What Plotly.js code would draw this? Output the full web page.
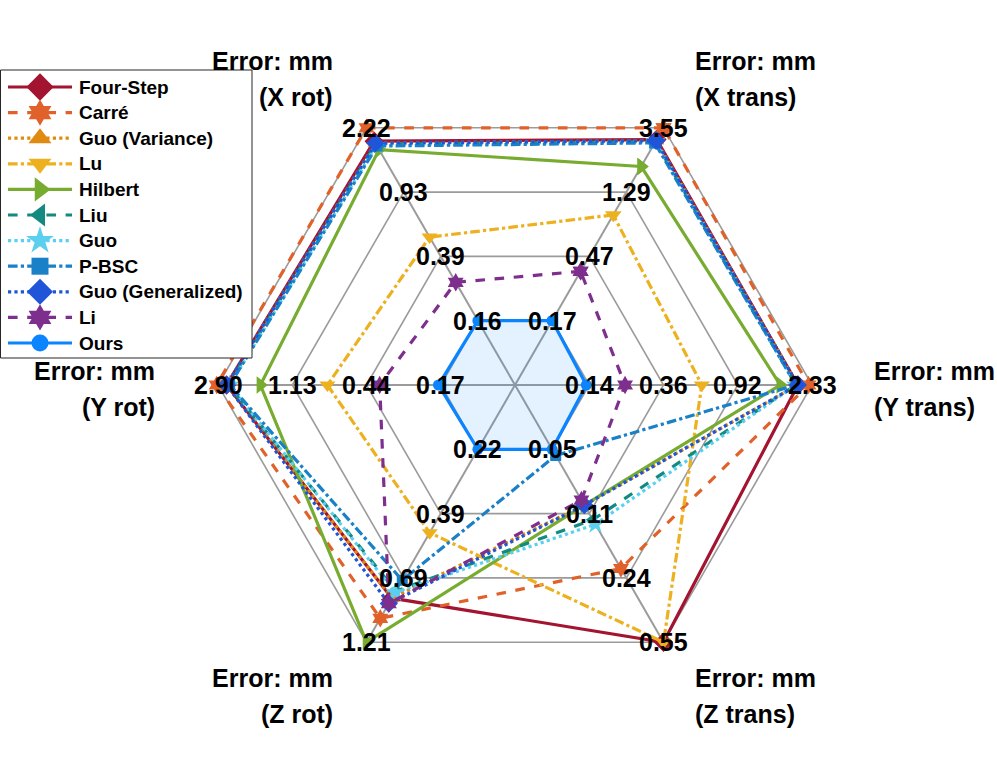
<!DOCTYPE html>
<html>
<head>
<meta charset="utf-8">
<script src="https://cdn.plot.ly/plotly-3.0.1.min.js"></script>
<style>html,body{margin:0;padding:0;background:#fff;}#chart{width:997px;height:774px;}</style>
</head>
<body>
<div id="chart"></div>
<script>
// Axes (order matches series values), angles in degrees
const axesNames = ['X trans', 'X rot', 'Y rot', 'Z rot', 'Z trans', 'Y trans'];
const axesAngles = [60, 120, 180, 240, 300, 0];
// Ring tick labels for each axis (ring 1..4)
const ticksXtrans = [0.17, 0.47, 1.29, 3.55];
const ticksXrot = [0.16, 0.39, 0.93, 2.22];
const ticksYrot = [0.17, 0.44, 1.13, 2.90];
const ticksZrot = [0.22, 0.39, 0.69, 1.21];
const ticksZtrans = [0.05, 0.11, 0.24, 0.55];
const ticksYtrans = [0.14, 0.36, 0.92, 2.33];
const axisTicks = [ticksXtrans, ticksXrot, ticksYrot, ticksZrot, ticksZtrans, ticksYtrans];

// Series values: [X trans, X rot, Y rot, Z rot, Z trans, Y trans]
const seriesNames = ['Four-Step', 'Carré', 'Guo (Variance)', 'Lu', 'Hilbert', 'Liu', 'Guo', 'P-BSC', 'Guo (Generalized)', 'Li', 'Ours'];
const fourStep = [2.95, 1.85, 2.60, 0.82, 0.55, 1.95];
const carre = [3.55, 2.22, 2.95, 0.98, 0.22, 2.23];
const guoVariance = [2.90, 1.80, 2.60, 0.82, 0.10, 1.95];
const lu = [0.90, 0.50, 0.72, 0.46, 0.55, 0.58];
const hilbert = [1.93, 1.65, 1.69, 1.21, 0.10, 1.56];
const liu = [2.85, 1.78, 2.55, 0.77, 0.12, 1.90];
const guo = [2.85, 1.75, 2.50, 0.78, 0.127, 1.90];
const pbsc = [2.80, 1.73, 2.50, 0.70, 0.054, 1.90];
const guoGeneralized = [2.90, 1.80, 2.60, 0.86, 0.10, 1.95];
const li = [0.37, 0.27, 0.37, 0.86, 0.094, 0.22];
const ours = [0.17, 0.16, 0.175, 0.22, 0.05, 0.135];
const seriesValues = [fourStep, carre, guoVariance, lu, hilbert, liu, guo, pbsc, guoGeneralized, li, ours];

// Styles
const colors = ['#A2142F', '#E0622A', '#E08A10', '#EDB120', '#77AC30', '#138A80', '#5BCFF0', '#1A80C8', '#1F55D8', '#7E2F8E', '#0A84FF'];
const dashes = ['solid', 'dash', 'dot', 'dashdot', 'solid', 'dash', 'dot', 'dashdot', 'dot', 'dash', 'solid'];
const symbols = ['diamond', 'hexagram', 'triangle-up', 'triangle-down', 'triangle-right', 'triangle-left', 'star', 'square', 'diamond', 'hexagram', 'circle'];
const msizes = [15, 14, 14, 14, 15, 14, 15, 11, 14, 14, 11];

const FONT = 'Liberation Sans, Arial, Helvetica, sans-serif';
const nRings = 4;
const W = 997, H = 774;
const cx = 515, cy = 385, unit = 74.25;

// map value -> radius (ring units), log scale through ring1..ring4
function radius(v, t) {
  return 1 + (nRings - 1) * Math.log(v / t[0]) / Math.log(t[nRings - 1] / t[0]);
}
function pt(r, angDeg) {
  const a = angDeg * Math.PI / 180;
  return [r * Math.cos(a), r * Math.sin(a)];
}
// pixel -> data units (used for legend placement)
function pxX(px) { return (px - cx) / unit; }
function pxY(py) { return (cy - py) / unit; }

const traces = [];
const gridColor = '#9b9b9b';
// hexagon rings
for (let k = 1; k <= nRings; k++) {
  const xs = [], ys = [];
  for (let i = 0; i <= axesAngles.length; i++) {
    const p = pt(k, axesAngles[i % axesAngles.length]);
    xs.push(p[0]); ys.push(p[1]);
  }
  traces.push({x: xs, y: ys, mode: 'lines', line: {color: gridColor, width: 1.6}, hoverinfo: 'skip', showlegend: false});
}
// spokes
for (let i = 0; i < axesAngles.length; i++) {
  const p = pt(nRings, axesAngles[i]);
  traces.push({x: [0, p[0]], y: [0, p[1]], mode: 'lines', line: {color: gridColor, width: 2}, hoverinfo: 'skip', showlegend: false});
}
// data series
seriesNames.forEach((name, s) => {
  const xs = [], ys = [];
  for (let i = 0; i <= axesAngles.length; i++) {
    const j = i % axesAngles.length;
    const r = radius(seriesValues[s][j], axisTicks[j]);
    const p = pt(r, axesAngles[j]);
    xs.push(p[0]); ys.push(p[1]);
  }
  const tr = {
    x: xs, y: ys, name: name, mode: 'lines+markers', showlegend: false,
    line: {color: colors[s], width: 3.2, dash: dashes[s]},
    marker: {symbol: symbols[s], size: msizes[s], color: colors[s], opacity: 1, line: {width: 0}},
    hoverinfo: 'name'
  };
  if (name === 'Ours') { tr.fill = 'toself'; tr.fillcolor = 'rgba(10,132,255,0.11)'; }
  traces.push(tr);
});

// custom legend (box + samples), drawn above the data
const legL = 0.5, legT = 70, legR = 252, legB = 358;
const rowY0 = 87, rowStep = 25.6, sampleX0 = 8, sampleX1 = 72, textX = 77;
traces.push({
  x: [pxX(legL), pxX(legR), pxX(legR), pxX(legL), pxX(legL)],
  y: [pxY(legT), pxY(legT), pxY(legB), pxY(legB), pxY(legT)],
  mode: 'lines', fill: 'toself', fillcolor: '#ffffff', line: {color: '#262626', width: 1},
  hoverinfo: 'skip', showlegend: false
});
const annotations = [];
seriesNames.forEach((name, s) => {
  const yy = pxY(rowY0 + rowStep * s);
  traces.push({
    x: [pxX(sampleX0), pxX((sampleX0 + sampleX1) / 2), pxX(sampleX1)], y: [yy, yy, yy],
    mode: 'lines+markers', showlegend: false, hoverinfo: 'skip',
    line: {color: colors[s], width: 3.2, dash: dashes[s]},
    marker: {symbol: symbols[s], size: [0, msizes[s] + 6, 0], color: colors[s], opacity: 1, line: {width: 0}}
  });
  annotations.push({x: pxX(textX), y: yy, xref: 'x', yref: 'y', text: name, showarrow: false,
    xanchor: 'left', yanchor: 'middle', font: {family: FONT, size: 19, color: '#000', weight: 'bold'}});
});

// ring labels
axesAngles.forEach((ang, i) => {
  for (let k = 1; k <= nRings; k++) {
    const p = pt(k, ang);
    annotations.push({x: p[0], y: p[1], xref: 'x', yref: 'y', text: axisTicks[i][k - 1].toFixed(2), showarrow: false,
      font: {family: FONT, size: 25, color: '#000', weight: 'bold'}, xanchor: 'center', yanchor: 'middle'});
  }
});

// axis titles (pixel anchors)
const titlePos = [
  // [line1 y px, line2 y px, x px, anchor]
  [61, 97, 693, 'left'],    // X trans
  [61, 97, 335, 'right'],   // X rot
  [371, 407, 157, 'right'], // Y rot
  [678, 714, 335, 'right'], // Z rot
  [678, 714, 693, 'left'],  // Z trans
  [371, 407, 872, 'left']   // Y trans
];
axesNames.forEach((nm, i) => {
  const tp = titlePos[i];
  annotations.push({x: pxX(tp[2]), y: pxY(tp[0]), xref: 'x', yref: 'y', text: 'Error: mm', showarrow: false,
    xanchor: tp[3], yanchor: 'middle', font: {family: FONT, size: 25, color: '#000', weight: 'bold'}});
  annotations.push({x: pxX(tp[2]), y: pxY(tp[1]), xref: 'x', yref: 'y', text: '(' + nm + ')', showarrow: false,
    xanchor: tp[3], yanchor: 'middle', font: {family: FONT, size: 25, color: '#000', weight: 'bold'}});
});

const layout = {
  width: W, height: H,
  margin: {l: 0, r: 0, t: 0, b: 0},
  paper_bgcolor: '#fff', plot_bgcolor: '#fff',
  xaxis: {range: [-cx / unit, (W - cx) / unit], visible: false, fixedrange: true},
  yaxis: {range: [-(H - cy) / unit, cy / unit], visible: false, fixedrange: true},
  showlegend: false,
  annotations: annotations
};

Plotly.newPlot('chart', traces, layout, {displayModeBar: false, staticPlot: true});
</script>
</body>
</html>
